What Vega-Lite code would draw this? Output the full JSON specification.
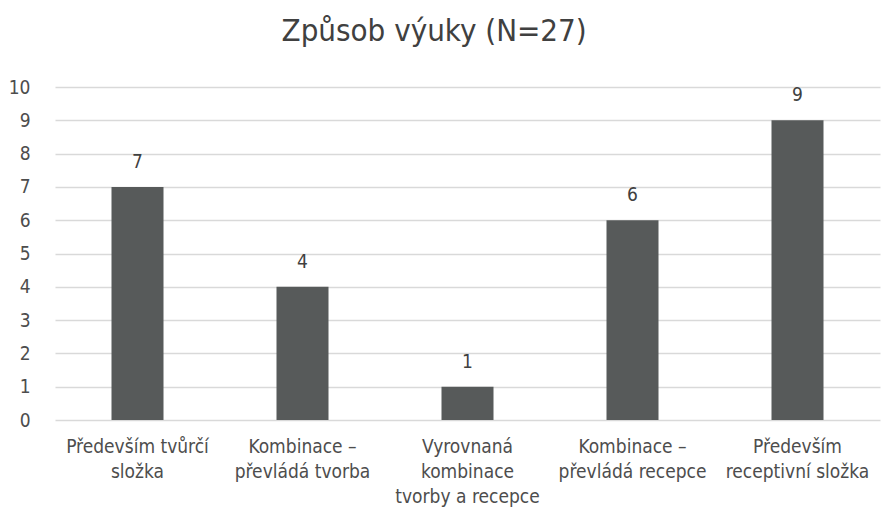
{
  "$schema": "https://vega.github.io/schema/vega-lite/v6.json",
  "autosize": "none",
  "width": 825,
  "height": 333,
  "padding": {"left": 55, "top": 87, "right": 5, "bottom": 95},
  "background": "white",
  "title": {"text": "Způsob výuky (N=27)", "font": "Liberation Sans Narrow, DejaVu Sans Condensed, Open Sans", "fontSize": 31, "fontWeight": "normal", "color": "#404040", "anchor": "middle", "frame": "bounds", "offset": 30, "dx": -10},
  "data": {"values": [
    {"kat": "Především tvůrčí|složka", "pocet": 7},
    {"kat": "Kombinace –|převládá tvorba", "pocet": 4},
    {"kat": "Vyrovnaná|kombinace|tvorby a recepce", "pocet": 1},
    {"kat": "Kombinace –|převládá recepce", "pocet": 6},
    {"kat": "Především|receptivní složka", "pocet": 9}
  ]},
  "encoding": {
    "x": {"field": "kat", "type": "nominal", "sort": null,
      "axis": {"title": null, "labelAngle": 0, "labelExpr": "split(datum.label, '|')", "labelFont": "Liberation Sans Narrow, DejaVu Sans Condensed, Open Sans", "labelFontSize": 19, "labelColor": "#4d4d4d", "labelPadding": 17, "ticks": false, "domain": false, "labelLimit": 300, "labelLineHeight": 25, "labelOverlap": false}},
    "y": {"field": "pocet", "type": "quantitative", "scale": {"domain": [0, 10]},
      "axis": {"title": null, "values": [0,1,2,3,4,5,6,7,8,9,10], "labelOverlap": false, "labelFont": "Liberation Sans Narrow, DejaVu Sans Condensed, Open Sans", "labelFontSize": 19, "labelColor": "#4d4d4d", "ticks": false, "domain": false, "labelPadding": 25, "gridColor": "#d9d9d9", "gridWidth": 1.5}}
  },
  "layer": [
    {"mark": {"type": "bar", "size": 52, "color": "#575a5a"}},
    {"mark": {"type": "text", "baseline": "bottom", "dy": -15, "font": "Liberation Sans Narrow, DejaVu Sans Condensed, Open Sans", "fontSize": 19, "color": "#404040"},
     "encoding": {"text": {"field": "pocet", "type": "quantitative"}}}
  ],
  "config": {"view": {"stroke": null}}
}
